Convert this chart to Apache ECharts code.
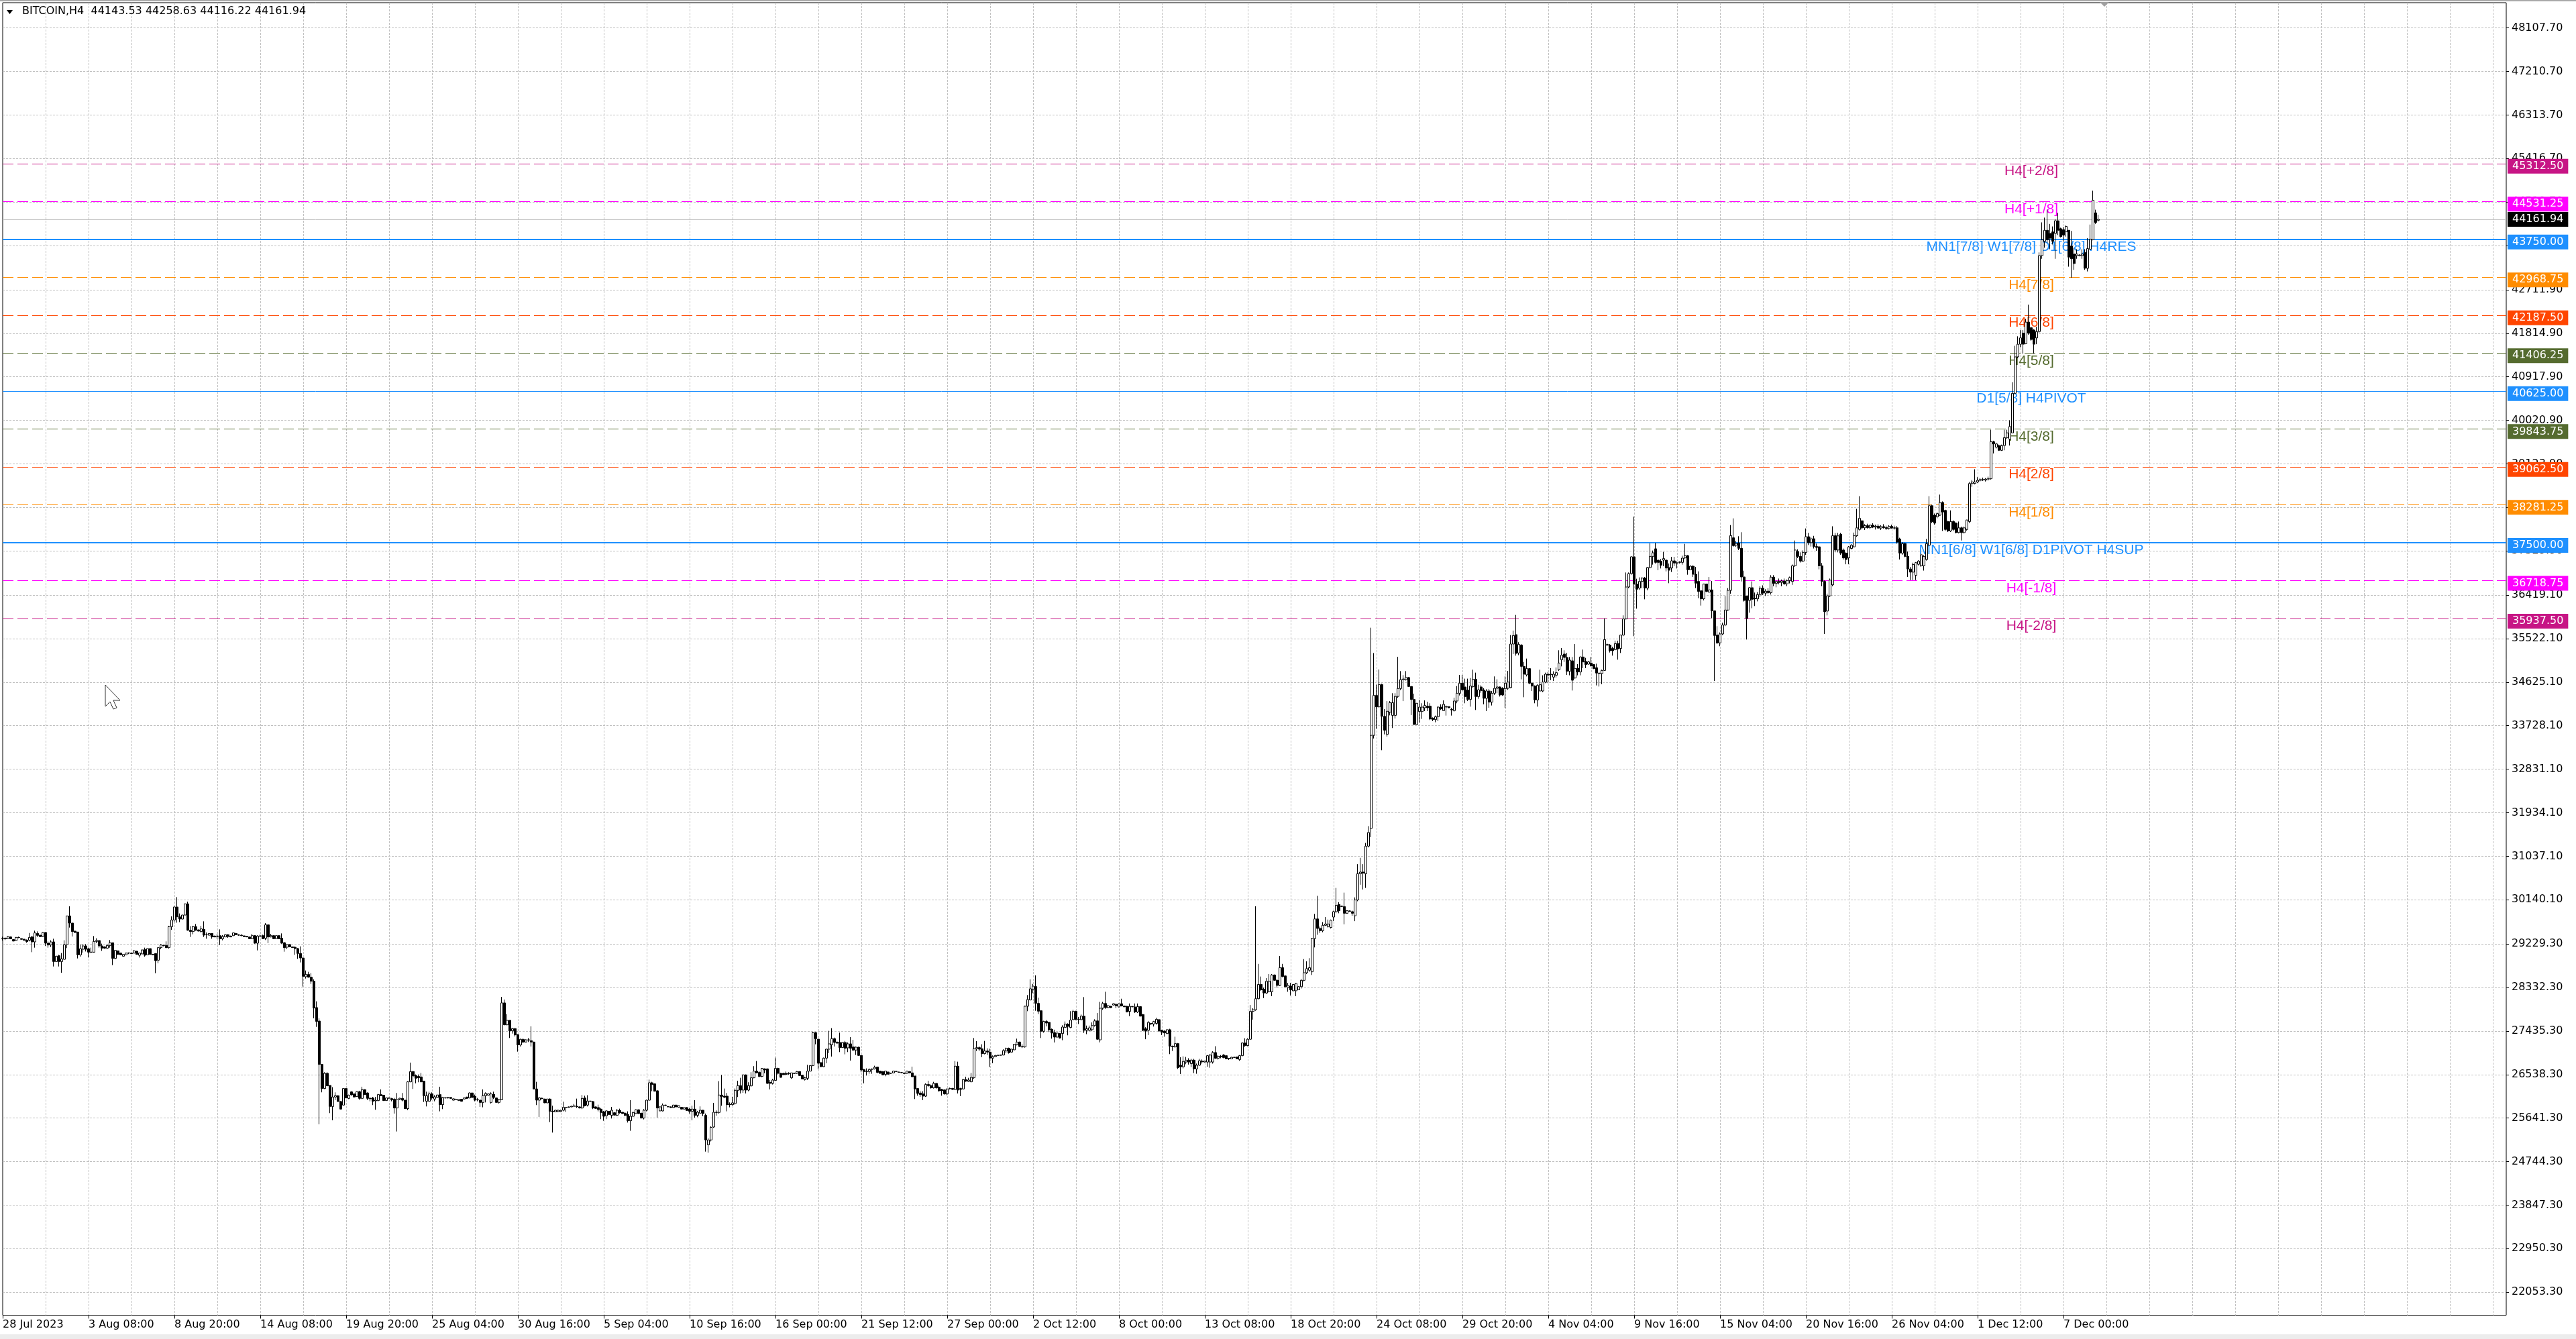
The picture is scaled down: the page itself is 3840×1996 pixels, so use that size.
<!DOCTYPE html>
<html>
<head>
<meta charset="utf-8">
<title>BITCOIN,H4</title>
<script src="https://cdn.jsdelivr.net/npm/echarts@6/dist/echarts.min.js"></script>
<style>
html,body{margin:0;padding:0;background:#ffffff;}
#chart{width:3840px;height:1996px;}
</style>
</head>
<body>
<div id="chart"></div>
<script>
const symbolName = 'BITCOIN,H4';

const opens = [
29340,29350,29337,29374,29320,29300,29365,29340,29328,29310,
29305,29374,29272,29447,29410,29383,29466,29245,29208,29272,
28867,28987,28867,28913,29212,29807,29660,29494,29475,29005,
29120,29189,29130,29060,29060,29282,29300,29189,29170,29143,
29199,29254,28931,29088,29042,28977,29005,29045,29040,29040,
29080,28996,29024,29115,29005,29134,29014,29033,28895,29153,
29200,29199,29153,29586,29724,29991,29788,29743,29825,30056,
29512,29485,29586,29520,29485,29530,29420,29411,29447,29392,
29383,29401,29337,29374,29420,29392,29400,29447,29415,29410,
29397,29387,29374,29337,29401,29245,29392,29401,29346,29623,
29374,29401,29337,29401,29346,29254,29162,29217,29170,29162,
29134,29033,28940,28553,28600,28544,28462,27918,27641,26747,
26250,26563,26314,25881,26075,26102,25983,25909,26250,
26047,26181,26139,26084,26185,26047,26227,26158,26047,26056,
25996,26001,26125,26112,26001,26056,26042,26029,25849,26029,
26047,26010,25835,26388,26600,26517,26499,26489,26402,25987,
25987,26139,26033,26066,26125,25918,26060,26056,26066,26010,
26030,26001,26029,26033,26075,26056,26158,26093,26020,26010,
25964,26102,26112,25964,26130,26056,25964,26020,28015,27563,
27655,27439,27485,27360,27148,27264,27208,27254,27236,27208,
26241,26010,26050,26033,25955,26033,25780,25770,25775,25775,
25803,25863,25863,25872,25885,25885,25872,25849,26056,25909,
25992,25982,25872,25858,25826,25771,25688,25780,25697,25752,
25697,25798,25761,25743,25715,25586,25678,25734,25812,25743,
25641,25803,26010,26369,26346,26204,25789,25789,25909,25880,
25872,25858,25909,25863,25863,25826,25858,25826,25780,25826,
25697,25743,25803,25697,25089,
25190,25457,25761,25757,26116,26093,26093,25927,25918,25941,
26213,26310,26218,26531,26218,26305,26471,26609,26582,26499,
26655,26655,26379,26356,26416,26665,26563,26563,26563,26565,
26471,26565,26563,26600,26526,26434,26462,26609,26724,27402,
27268,26784,26701,26877,27061,27153,27278,27208,27199,27093,
27199,27088,27171,27107,27042,27102,26932,26642,26609,26600,
26645,26655,26692,26609,26600,26540,26591,26568,26572,26605,
26590,26580,26572,26563,26600,26572,26508,26250,26158,26139,
26093,26333,26310,26264,26356,26278,26231,26222,26139,26245,
26254,26231,26711,26250,26241,26434,26397,26388,26471,27070,
27093,27070,26969,27024,27001,26877,26909,26932,26935,26941,
27024,27079,27001,27047,27153,27208,27116,27107,27946,28075,
28296,28351,28005,27853,27430,27632,27614,27471,27402,27310,
27383,27383,27508,27577,27508,
27670,27840,27680,27670,27742,27449,27449,27462,27547,27644,
27253,27905,28003,27918,27944,27971,27984,27931,27997,27950,
27944,27840,27940,27931,27827,27938,27775,27481,27449,27592,
27579,27592,27670,27449,27435,27383,27462,27122,27109,27175,
26731,26698,26796,26835,26764,26835,26653,26731,26815,26796,
26796,26796,26796,26992,26874,26914,26940,26927,26870,26861,
26895,26901,26848,26927,27188,27135,27266,27840,27873,28101,
28395,28297,28219,28244,28244,28590,28480,28375,28740,28570,
28329,28362,28264,28264,28284,28349,28480,28636,28688,28655,
29341,29745,29549,29504,29614,29588,29568,29784,29895,30045,
30000,30000,29862,29910,29895,29810,30136,30678,30711,30678,
31246,31611,33529,34351,34116,34573,33920,33549,34005,33940,
33940,34331,34495,34677,34677,
34720,34535,34268,33752,34019,34019,34097,34130,34130,33881,
33853,33913,34111,34038,34120,34120,34065,34038,34236,34397,
34604,34526,34462,34268,34535,34683,34328,34526,34462,34291,
34443,34213,34397,34498,34526,34498,34489,34498,34512,35411,
35604,35226,35388,34950,34775,34904,34604,34544,34259,34443,
34443,34627,34789,34780,34729,34766,34881,35088,35204,35134,
34849,35065,34710,34913,34835,35143,35051,34996,35019,34987,
34922,34812,34802,34867,35401,35388,35319,35296,35420,35319,
35595,35927,36586,36862,37208,36646,36563,36701,36770,36563,
36987,37217,37374,37139,37116,37139,37139,36987,36977,37125,
37085,37093,37093,37185,37231,36941,37014,36848,36701,36507,
36342,36646,36480,36526,36093,35595,35434,35618,35802,36111,
36517,37600,37447,37494,37383,36793,36402,36309,36572,36355,
36342,36430,36560,36460,36500,36470,36790,36660,36700,36680,
36710,36650,36720,36700,37022,37316,37217,37120,37300,37622,
37500,37580,37420,37413,37022,36700,36090,36402,36630,37642,
37348,37674,37348,37283,37185,37380,37413,37642,37772,37950,
37805,37850,37810,37860,37820,37840,37800,37830,37810,37790,
37835,37800,37805,37576,37283,37480,37217,36957,36892,36826,
37054,37022,37022,37152,37446,38261,38065,38033,38065,38327,
38164,37935,37740,37935,37902,37707,37805,37707,37772,37935,
38718,38718,38751,38784,38800,38790,38810,38816,39579,39469,
39501,39403,39501,39664,39631,39762,40577,41328,41589,41817,
41600,42045,41928,41882,41719,41850,43415,43709,43937,43872,
43905,43872,44133,43970,43950,43905,43937,43611,43448,43415,
43415,43415,43481,43154,43546,43742,44296,44143.53
];

const highs = [
29380,29360,29390,29385,29330,29370,29380,29345,29330,29320,
29456,29396,29503,29489,29420,29475,29470,29282,29305,29337,
28990,29005,29042,29305,29807,30005,29660,29500,29475,29212,
29226,29226,29153,29153,29392,29346,29300,29236,29180,29226,
29310,29254,29106,29090,29050,29020,29045,29055,29045,29100,
29085,29042,29110,29153,29135,29135,29020,29033,29162,29226,
29210,29282,29604,29798,30000,30194,29858,29830,30060,30102,
29595,29604,29641,29525,29604,29696,29466,29450,29447,29400,
29429,29530,29411,29425,29430,29400,29460,29455,29430,29430,
29400,29390,29380,29438,29410,29410,29420,29420,29660,29632,
29438,29405,29405,29410,29447,29272,29217,29220,29175,29180,
29143,29180,28950,28682,28655,28627,28498,28047,27697,26757,
26586,26586,26314,26278,26171,26110,25990,26255,26260,
26125,26194,26145,26190,26204,26287,26235,26171,26079,26079,
26079,26139,26231,26120,26060,26065,26056,26056,26158,26056,
26158,26015,26402,26784,26609,26540,26540,26572,26411,26185,
26185,26171,26112,26125,26287,26079,26070,26075,26070,26045,
26040,26035,26035,26060,26080,26171,26165,26125,26056,26019,
26231,26171,26150,26171,26185,26060,26038,28139,28084,27784,
27655,27494,27494,27370,27277,27277,27260,27291,27531,27215,
26388,26079,26060,26040,26040,26047,25895,25810,25810,25810,
25978,25872,25878,25890,25932,26042,25878,26116,26102,26112,
26000,25992,25878,25918,25849,25789,25803,25785,25872,25760,
25826,25835,25765,25757,25780,26010,25771,25820,25820,25750,
25826,26019,26434,26388,26350,26217,25880,25941,25918,25885,
25880,25915,25915,25900,25870,25865,25865,25849,25895,26010,
25790,25882,25810,25734,25227,
25470,25955,25800,26402,26531,26250,26158,25964,26079,26250,
26411,26471,26540,26540,26379,26586,26711,26817,26609,26674,
26665,26665,26425,26448,26886,26678,26570,26570,26600,26586,
26572,26575,26609,26605,26530,26494,26738,26730,27416,27416,
27268,26790,26886,27070,27439,27494,27300,27215,27402,27205,
27231,27199,27310,27254,27116,27110,26932,26655,26665,26665,
26665,26720,26701,26615,26605,26618,26598,26575,26618,26612,
26595,26585,26578,26615,26605,26701,26508,26250,26204,26194,
26356,26411,26333,26388,26360,26310,26241,26231,26250,26268,
26260,26817,26803,26264,26448,26494,26471,26572,27291,27227,
27116,27162,27231,27079,27070,26932,26940,26945,26948,27061,
27093,27093,27065,27170,27278,27215,27162,27955,28176,28499,
28406,28581,28121,27863,27646,27660,27623,27485,27462,27400,
27393,27554,27632,27595,27844,
27873,27853,27723,27775,28134,27547,27547,27612,27677,27807,
28035,28035,28244,27971,27950,28005,28003,28003,28101,27960,
27950,28003,27957,28003,28003,27945,27788,27514,27644,27600,
27644,27709,27677,27462,27449,27470,27481,27135,27318,27188,
26894,26914,26901,26874,26861,26861,26764,26861,26848,26825,
26940,26959,27018,27122,26940,26940,26959,26935,26880,26900,
26905,26905,26940,27201,27286,27286,27971,27905,30006,28819,
28558,28329,28525,28610,28610,28600,28506,28982,28819,28590,
28427,28427,28400,28427,28355,28506,28917,28871,28936,29354,
29849,30221,29588,29680,29784,29732,29732,29915,30384,30091,
30020,30287,29920,29920,29915,30189,30874,31004,30874,31311,
31657,35747,35225,34573,34886,34592,34071,34234,34234,34397,
34397,35147,34853,34769,34853,
34729,34544,34388,34190,34259,34190,34249,34222,34190,33899,
33936,34130,34167,34249,34144,34125,34097,34305,34544,34775,
34775,34697,34697,34710,34881,34821,34572,34558,34498,34480,
34480,34443,34743,34683,34535,34521,34743,34858,35595,35687,
36010,35448,35411,35042,35111,34913,34618,34558,34581,34881,
34766,34821,34835,34913,34849,34927,35282,35328,35282,35226,
35143,35143,35411,34996,35157,35296,35125,35065,35143,34995,
35005,34821,34881,35941,35420,35411,35355,35480,35480,35604,
36001,36885,36885,37217,38037,36756,36784,36784,36793,37001,
37484,37337,37494,37148,37162,37309,37153,37070,37208,37208,
37116,37116,37231,37475,37245,37033,37033,36999,36908,36517,
36655,36646,36793,36710,36102,35779,35650,35849,36402,36563,
37862,38000,37540,37632,37715,36922,36402,36586,36701,36471,
36480,36600,36620,36540,36560,36830,36830,36720,36760,36740,
36760,36740,36800,37050,37544,37360,37300,37340,37792,37700,
37620,37640,37480,37430,37080,36720,36450,36760,37837,37700,
37700,37700,37380,37300,37430,37470,37707,38196,38457,37960,
37880,37890,37870,37900,37870,37880,37860,37880,37850,37860,
37870,37850,37840,37600,37511,37500,37316,37000,37087,37100,
37140,37270,37240,37576,38457,38280,38100,38120,38490,38350,
38180,37950,38164,37960,37920,37935,37830,37830,37970,38750,
38790,39012,38849,38830,38840,38830,38860,39827,39600,39560,
39520,39520,39827,39827,40022,40806,41556,41752,41882,41882,
42111,42404,41950,41900,41947,43481,44100,44198,44361,44068,
44016,44166,44296,43990,44003,44035,43937,43924,43578,43546,
43440,43546,43546,43774,44055,44753,44361,44258.63
];

const lows = [
29300,29310,29330,29330,29280,29295,29350,29320,29300,29255,
29282,29060,29153,29374,29370,29375,29189,29153,29166,28765,
28860,28765,28636,28904,29143,29567,29383,29460,28931,28968,
29051,29074,28950,29042,29051,29245,29153,29088,29130,29125,
29153,28793,28913,29005,29000,28970,29000,29020,29020,29035,
29010,28950,29020,28968,29000,29010,29000,28627,28830,29120,
29180,29143,29134,29521,29678,29668,29678,29735,29820,29503,
29374,29429,29503,29490,29466,29374,29337,29400,29337,29370,
29337,29208,29305,29370,29355,29370,29395,29415,29400,29390,
29378,29370,29330,29328,29236,29097,29365,29328,29310,29245,
29365,29330,29330,29328,29236,29070,29125,29165,29150,29005,
28922,28849,28351,28517,28535,28406,27697,27521,25512,26172,
26240,26305,25743,25595,26010,25980,25820,25900,26050,
26033,26102,26070,26080,26019,26033,26120,26010,25987,25909,
25812,25987,26093,25995,25995,26040,25987,25734,25365,26015,
25987,25830,25803,26379,26241,26356,26379,26379,25973,25881,
25987,26019,25987,26060,25780,25826,26040,26045,26040,26005,
26015,25995,25980,26025,26040,26047,26060,25987,25987,25872,
25863,25964,26105,25941,26033,25960,25941,26010,27554,27554,
27291,27383,27323,27010,27116,27185,27200,27208,27116,26235,
25909,25665,26030,25950,25950,25558,25342,25765,25765,25765,
25780,25770,25855,25865,25872,25849,25840,25826,25881,25881,
25975,25826,25835,25780,25619,25586,25619,25710,25632,25695,
25688,25734,25730,25678,25549,25379,25660,25730,25730,25635,
25614,25780,26001,26194,26190,25651,25785,25780,25890,25865,
25850,25850,25865,25858,25820,25820,25790,25734,25595,25651,
25660,25734,25680,24950,24927,
25160,25440,25690,25734,25895,26050,25780,25863,25895,25918,
26075,26148,26162,26148,26194,26287,26462,26563,26480,26485,
26563,26342,26231,26333,26416,26540,26475,26530,26531,26536,
26448,26550,26554,26510,26440,26416,26425,26600,26711,27162,
26646,26695,26692,26771,26978,26909,27116,27180,27001,27088,
26955,27001,26826,27024,26941,26925,26586,26356,26517,26554,
26554,26642,26563,26555,26525,26503,26540,26555,26563,26595,
26578,26570,26550,26558,26568,26480,26033,26102,26079,26010,
26079,26287,26250,26250,26250,26185,26102,26125,26112,26231,
26225,26218,26148,26093,26231,26388,26388,26379,26448,27024,
27024,26895,26955,26941,26692,26771,26900,26920,26930,26932,
26978,26969,26995,27040,27139,27110,27084,27093,27844,28066,
28213,27853,27784,27291,27402,27531,27416,27278,27199,27300,
27278,27245,27499,27347,27494,
27657,27657,27579,27657,27396,27370,27429,27435,27527,27253,
27201,27873,27892,27905,27910,27965,27905,27925,27944,27925,
27820,27742,27918,27807,27807,27735,27435,27266,27351,27560,
27527,27566,27430,27351,27318,27375,26959,27024,27090,26653,
26548,26666,26751,26744,26692,26568,26555,26718,26764,26790,
26698,26679,26764,26861,26848,26874,26874,26855,26840,26855,
26880,26855,26822,26914,27109,27122,27253,27670,27853,28088,
28264,28114,28199,28231,28153,28470,28329,28362,28544,28329,
28244,28166,28255,28153,28278,28310,28460,28610,28655,28590,
29158,29419,29458,29471,29601,29568,29549,29699,29862,29862,
29990,29634,29855,29895,29810,29699,30110,30450,30352,30384,
31219,31428,33464,33666,34103,33222,33549,33503,33940,33679,
33875,34299,34462,34234,34658,
34526,33945,33752,33752,33789,33867,34028,34028,33844,33821,
33798,33821,34051,34028,33936,34090,33936,34019,34190,34351,
34452,34190,34236,34120,34512,34051,34282,34406,34167,34028,
34097,34144,34360,34397,34328,34342,34097,34466,34498,35204,
35171,35180,34683,34314,34743,34581,34443,34190,34120,34434,
34420,34604,34604,34664,34650,34720,34858,34950,35042,34775,
34766,34452,34697,34766,34766,34913,34913,34987,34950,34895,
34558,34535,34581,34858,35374,35236,35171,35282,35088,35226,
35572,35918,36563,36839,35572,36139,36526,36563,36332,36517,
36968,37047,37070,36931,36968,37014,36908,36664,36895,37014,
36968,37070,37047,37162,36839,36931,36793,36563,36355,36203,
36309,36480,36471,35941,34650,35411,35365,35595,35779,36093,
36448,37415,37415,37346,36701,36286,35503,36056,36148,36194,
36290,36380,36420,36400,36440,36430,36600,36580,36640,36600,
36630,36600,36660,36630,37000,37180,37090,37100,37250,37450,
37420,37380,37330,36950,36600,35619,36000,36380,36600,37300,
37300,37250,37150,37054,37054,37360,37400,37620,37750,37772,
37760,37790,37780,37800,37770,37790,37760,37790,37760,37770,
37790,37770,37480,37152,37250,37200,36794,36728,36728,36728,
37030,37000,36924,37130,37430,37900,37870,38000,38050,37740,
37740,37720,37720,37740,37690,37690,37544,37690,37750,37900,
38650,38700,38730,38760,38770,38760,38780,38800,39338,39440,
39390,39390,39403,39640,39501,39762,40560,41300,41525,41393,
41589,41785,41660,41393,41589,41817,43350,43578,43676,43546,
43644,43350,43839,43790,43709,43807,43187,42959,43122,43350,
43400,43350,43122,43089,43540,43730,44068,44116.22
];

const closes = [
29350,29335,29383,29337,29290,29365,29360,29325,29305,29280,
29365,29272,29457,29406,29380,29466,29245,29208,29272,28867,
28977,28867,28922,29212,29807,29660,29485,29466,29005,29130,
29189,29120,29060,29060,29282,29300,29189,29143,29143,29199,
29254,28931,29097,29014,29005,29014,29042,29040,29030,29088,
29014,29042,29106,28996,29134,29014,29005,28885,29153,29208,
29195,29153,29586,29724,29991,29788,29743,29825,30056,29512,
29485,29586,29512,29494,29540,29411,29420,29447,29374,29374,
29387,29337,29383,29420,29383,29374,29457,29420,29410,29400,
29380,29374,29337,29401,29245,29392,29395,29337,29623,29374,
29401,29337,29401,29337,29245,29153,29217,29171,29153,29134,
29033,28940,28563,28600,28544,28462,27908,27632,26747,26250,
26563,26305,25881,26075,26102,25983,25826,26250,26056,
26112,26121,26075,26185,26047,26227,26125,26047,26040,25987,
26010,26125,26102,26001,26056,26050,26019,25849,26029,26050,
26010,25835,26388,26600,26508,26462,26471,26388,26102,26102,
26139,26056,26079,26116,25918,26066,26056,26066,26047,26038,
26025,26029,25987,26056,26047,26158,26066,26010,26015,25964,
26102,26148,26139,26139,26066,25964,26029,28015,27563,27655,
27439,27485,27356,27148,27264,27208,27254,27250,27208,26241,
26010,26056,26045,25955,26033,25780,25770,25803,25803,25800,
25863,25860,25872,25885,25890,25875,25849,26047,25895,25992,
25985,25849,25840,25817,25757,25678,25789,25715,25803,25702,
25803,25752,25734,25697,25586,25678,25757,25812,25734,25641,
25803,26010,26369,26333,26194,25849,25872,25909,25900,25872,
25858,25909,25872,25895,25826,25858,25798,25780,25826,25697,
25762,25803,25734,25190,25190,
25450,25761,25757,26116,26088,26070,25918,25918,25955,26213,
26310,26218,26531,26218,26310,26471,26609,26572,26499,26665,
26632,26356,26356,26425,26665,26563,26480,26536,26540,26560,
26572,26560,26600,26517,26448,26471,26609,26724,27402,27278,
26771,26701,26877,27061,27171,27278,27199,27185,27093,27199,
27079,27171,27079,27042,27102,26932,26632,26600,26600,26642,
26650,26688,26582,26563,26531,26609,26545,26563,26609,26600,
26584,26576,26558,26609,26572,26494,26241,26148,26125,26093,
26333,26310,26264,26356,26264,26204,26204,26139,26241,26250,
26231,26711,26218,26231,26434,26402,26425,26480,27070,27093,
27061,26969,27024,27001,26877,26909,26932,26935,26941,27033,
27079,26987,27061,27162,27208,27116,27107,27946,28084,28305,
28360,28005,27844,27430,27632,27600,27462,27393,27310,27393,
27291,27517,27577,27531,27660,
27840,27677,27675,27742,27449,27481,27501,27547,27644,27266,
27905,28003,27918,27957,27918,27997,27957,27997,27951,27935,
27827,27944,27935,27827,27938,27742,27449,27435,27612,27580,
27631,27677,27435,27410,27396,27462,27122,27109,27175,26679,
26698,26809,26835,26796,26835,26653,26731,26822,26800,26815,
26927,26940,26992,26874,26914,26901,26888,26861,26861,26894,
26890,26861,26927,27188,27135,27266,27840,27873,28101,28395,
28284,28219,28460,28460,28590,28480,28375,28740,28558,28349,
28375,28284,28395,28414,28349,28480,28636,28721,28740,29341,
29745,29549,29504,29614,29641,29641,29719,29895,30026,29915,
30010,29862,29915,29902,29862,30136,30678,30711,30690,31246,
31526,33529,34351,34116,34573,33920,33633,34025,34201,34201,
34331,34495,34677,34690,34723,
34535,34268,33752,34190,34111,34111,34144,34097,33867,33853,
33913,34111,34074,34167,34111,34097,34051,34236,34397,34604,
34466,34328,34268,34544,34683,34328,34466,34452,34291,34443,
34213,34397,34498,34526,34360,34360,34604,34627,35411,35586,
35217,35401,34950,34789,34904,34604,34544,34259,34558,34572,
34627,34789,34770,34789,34789,34821,35019,35180,35134,34849,
35079,34664,34904,34835,35143,35042,34987,35042,34959,34904,
34812,34802,34867,35503,35388,35272,35272,35420,35309,35595,
35927,36586,36862,37208,36646,36540,36701,36770,36563,36987,
37217,37291,37093,37093,37033,37171,36977,36931,37125,37079,
37079,37102,37180,37231,36941,37014,36848,36664,36494,36342,
36646,36494,36526,36093,35586,35434,35618,35802,36111,36517,
37646,37438,37484,37383,36793,36309,35941,36572,36332,36342,
36430,36560,36460,36500,36470,36790,36660,36700,36680,36710,
36650,36720,36780,37022,37348,37217,37120,37300,37622,37500,
37580,37420,37400,37022,36700,36076,36402,36728,37642,37348,
37640,37283,37185,37152,37413,37446,37642,37805,38001,37805,
37850,37810,37860,37820,37840,37800,37830,37810,37790,37835,
37800,37805,37511,37283,37480,37217,36957,36892,37050,37087,
37120,37250,37217,37480,38261,37935,37902,38098,38327,38131,
37772,37740,37935,37772,37707,37805,37707,37805,37967,38718,
38751,38751,38784,38800,38790,38810,38816,39579,39534,39534,
39403,39501,39664,39762,39892,40577,41328,41589,41719,41589,
42045,41817,41686,41589,41850,43415,43742,43937,43742,43774,
43709,44133,43937,43807,43839,44016,43383,43350,43252,43448,
43428,43448,43154,43559,43755,44557,44100,44161.94
];

const xTickLabels = ['28 Jul 2023','3 Aug 08:00','8 Aug 20:00','14 Aug 08:00','19 Aug 20:00','25 Aug 04:00','30 Aug 16:00','5 Sep 04:00','10 Sep 16:00','16 Sep 00:00','21 Sep 12:00','27 Sep 00:00','2 Oct 12:00','8 Oct 00:00','13 Oct 08:00','18 Oct 20:00','24 Oct 08:00','29 Oct 20:00','4 Nov 04:00','9 Nov 16:00','15 Nov 04:00','20 Nov 16:00','26 Nov 04:00','1 Dec 12:00','7 Dec 00:00'];

const yTickValues = [48107.70,47210.70,46313.70,45416.70,44519.70,43622.70,42711.90,41814.90,40917.90,40020.90,39123.90,38226.90,37329.90,36419.10,35522.10,34625.10,33728.10,32831.10,31934.10,31037.10,30140.10,29229.30,28332.30,27435.30,26538.30,25641.30,24744.30,23847.30,22950.30,22053.30];

const levelValues = [45312.50,44531.25,43750.00,42968.75,42187.50,41406.25,40625.00,39843.75,39062.50,38281.25,37500.00,36718.75,35937.50];
const levelNames = ['H4[+2/8]','H4[+1/8]','MN1[7/8] W1[7/8] D1[6/8] H4RES','H4[7/8]','H4[6/8]','H4[5/8]','D1[5/8] H4PIVOT','H4[3/8]','H4[2/8]','H4[1/8]','MN1[6/8] W1[6/8] D1PIVOT H4SUP','H4[-1/8]','H4[-2/8]'];
const levelColors = ['#C71585','#FF00FF','#1E90FF','#FF8C00','#FF4500','#556B2F','#1E90FF','#556B2F','#FF4500','#FF8C00','#1E90FF','#FF00FF','#C71585'];

// ---- layout / style configuration ----
const FONT = 'DejaVu Sans';
const LEVEL_FONT = 'Liberation Sans';
const levelLineWidths = [1,1,2,1,1,1,1,1,1,1,2,1,1];
const SLOT_COUNT = 934;
const BARS_PER_LABEL = 32;
const BARS_PER_GRID = 16;
const Y_MIN = 21578.9, Y_MAX = 48627.5;
const LABEL_FROM = 700, LABEL_TO = 812;

const categories = Array.from({length: SLOT_COUNT}, (_, i) => String(i));
const candleData = opens.map((o, i) => [o, closes[i], lows[i], highs[i]]);
const last = opens.length - 1;
const lastClose = closes[last];
const headerText = symbolName + '  ' + opens[last].toFixed(2) + ' ' + highs[last].toFixed(2) + ' ' + lows[last].toFixed(2) + ' ' + closes[last].toFixed(2);

const markLines = [];
levelValues.forEach((v, k) => {
  const col = levelColors[k];
  markLines.push({
    yAxis: v,
    lineStyle: {color: col, width: levelLineWidths[k], type: col === '#1E90FF' ? 'solid' : [16, 6]},
    label: {show: true, position: 'end', distance: 2, offset: [0, 4], formatter: () => v.toFixed(2), color: '#ffffff',
      backgroundColor: col, padding: [3, 7, 2, 7], fontFamily: FONT, fontSize: 16, lineHeight: 17}
  });
});
markLines.push({
  yAxis: lastClose,
  lineStyle: {color: '#C0C0C0', width: 1, type: 'solid'},
  label: {show: true, position: 'end', distance: 2, formatter: () => lastClose.toFixed(2), color: '#ffffff',
    backgroundColor: '#000000', padding: [3, 7, 2, 7], fontFamily: FONT, fontSize: 16, lineHeight: 17}
});
levelValues.forEach((v, k) => {
  markLines.push([
    {coord: [LABEL_FROM, v], lineStyle: {color: 'rgba(0,0,0,0)', width: 1, type: 'solid', opacity: 1},
     label: {show: true, position: 'insideMiddleBottom', distance: 1, formatter: () => levelNames[k],
       color: levelColors[k], opacity: 1, fontFamily: LEVEL_FONT, fontSize: 21}},
    {coord: [LABEL_TO, v]}
  ]);
});

const cursorPts = [[0,0],[0,32],[7,25],[12,36],[17,34],[12,23],[22,23]].map(p => [157 + p[0], 1021 + p[1]]);

const chart = echarts.init(document.getElementById('chart'), null, {renderer: 'canvas', width: 3840, height: 1996});
chart.setOption({
  animation: false,
  backgroundColor: '#ffffff',
  grid: {left: 4, right: 104, top: 4, bottom: 35.5, show: true, borderColor: '#000000', borderWidth: 1,
    backgroundColor: '#ffffff', containLabel: false, outerBoundsMode: 'none'},
  xAxis: {
    type: 'category', data: categories, boundaryGap: false,
    axisLine: {show: false},
    axisTick: {show: true, length: 5, inside: false, interval: (i) => i % BARS_PER_LABEL === 0 && i / BARS_PER_LABEL < xTickLabels.length, lineStyle: {color: '#000000'}},
    axisLabel: {show: true, interval: (i) => i % BARS_PER_LABEL === 0 && i / BARS_PER_LABEL < xTickLabels.length,
      formatter: (val, i) => xTickLabels[Math.round(Number(val) / BARS_PER_LABEL)] || '',
      align: 'left', margin: 6, color: '#000000', fontFamily: FONT, fontSize: 16},
    splitLine: {show: true, interval: (i) => i % BARS_PER_GRID === 0 && i > 0, lineStyle: {color: '#C0C0C0', width: 1, type: [3, 2]}}
  },
  yAxis: {
    type: 'value', position: 'right', min: Y_MIN, max: Y_MAX, scale: true,
    axisLine: {show: false},
    axisTick: {show: true, length: 4, inside: false, customValues: yTickValues, lineStyle: {color: '#000000'}},
    axisLabel: {show: true, customValues: yTickValues, formatter: (v) => Number(v).toFixed(2), margin: 8,
      color: '#000000', fontFamily: FONT, fontSize: 16},
    splitLine: {show: true, lineStyle: {color: '#C0C0C0', width: 1, type: [3, 2]}}
  },
  series: [
    {
      type: 'line', name: 'levels', data: closes, symbol: 'none', showSymbol: false, silent: true,
      lineStyle: {opacity: 0, width: 0}, z: 2,
      markLine: {silent: true, symbol: ['none', 'none'], animation: false, z: 3, data: markLines}
    },
    {
      type: 'candlestick', name: symbolName, data: candleData, large: false, barWidth: 3, z: 10,
      itemStyle: {color: '#ffffff', color0: '#000000', borderColor: '#000000', borderColor0: '#000000', borderWidth: 1}
    }
  ],
  graphic: [
    {type: 'rect', silent: true, z: 100, shape: {x: 0, y: 0, width: 3840, height: 2}, style: {fill: '#A9A9A9'}},
    {type: 'rect', silent: true, z: 100, shape: {x: 0, y: 1989, width: 3840, height: 7}, style: {fill: '#ECECEC'}},
    {type: 'polygon', silent: true, z: 100, shape: {points: [[10,15],[19,15],[14.5,21]]}, style: {fill: '#000000'}},
    {type: 'text', silent: true, z: 100, left: 33, top: 9, style: {text: headerText, font: '16px "DejaVu Sans"', fill: '#000000'}},
    {type: 'polygon', silent: true, z: 100, shape: {points: [[3130,3],[3144,3],[3137,10]]}, style: {fill: '#A0A0A0'}},
    {type: 'polygon', silent: true, z: 100, shape: {points: cursorPts}, style: {fill: '#ffffff', stroke: '#333333', lineWidth: 1}}
  ]
});
</script>
</body>
</html>
